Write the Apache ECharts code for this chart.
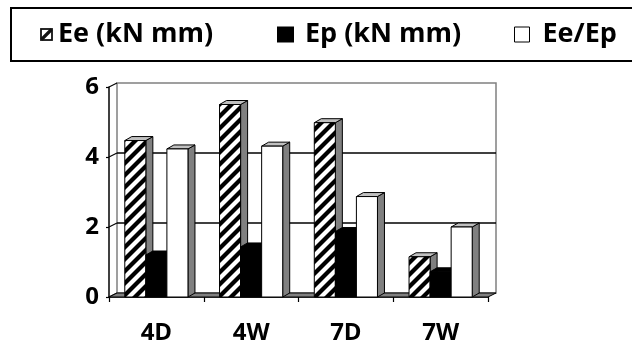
<!DOCTYPE html>
<html>
<head>
<meta charset="utf-8">
<script src="https://cdn.jsdelivr.net/npm/echarts@6/dist/echarts.min.js"></script>
<style>
  html, body { margin: 0; padding: 0; background: #fff; }
  #chart { width: 632px; height: 345px; }
</style>
</head>
<body>
<div id="chart"></div>
<script>
// Specimen groups and measured energies
const categories = ['4D', '4W', '7D', '7W'];
const eeValues = [4.47, 5.50, 4.98, 1.15];     // Ee (kN mm)
const epValues = [1.20, 1.43, 1.87, 0.72];     // Ep (kN mm)
const ratioValues = [4.23, 4.31, 2.87, 2.00];  // Ee/Ep
const yTicks = [0, 2, 4, 6];
const seriesNames = ['Ee (kN mm)', 'Ep (kN mm)', 'Ee/Ep'];

const FONT = '"Open Sans", "Liberation Sans", sans-serif';
const DEPTH_X = 7, DEPTH_Y = 4;      // bar depth offset
const WALL_X = 8, WALL_Y = 4;        // back wall offset

// diagonal hatch fill for the Ee bars
function makeHatch() {
  const s = 12;
  const c = document.createElement('canvas');
  c.width = s; c.height = s;
  const g = c.getContext('2d');
  g.fillStyle = '#fff';
  g.fillRect(0, 0, s, s);
  g.strokeStyle = '#000';
  g.lineWidth = 4.2;
  for (let k = -1; k <= 1; k++) {
    g.beginPath();
    g.moveTo(k * s - 2, s + 2);
    g.lineTo(k * s + s + 2, -2);
    g.stroke();
  }
  return c;
}
const hatchCanvas = makeHatch();
const hatchFill = { image: hatchCanvas, repeat: 'repeat' };

// legend glyph: framed square with one diagonal
function makeLegendHatch() {
  const s = 13;
  const c = document.createElement('canvas');
  c.width = s; c.height = s;
  const g = c.getContext('2d');
  g.fillStyle = '#fff';
  g.fillRect(0, 0, s, s);
  g.strokeStyle = '#111';
  g.lineWidth = 1.8;
  g.strokeRect(1, 1, s - 2, s - 2);
  g.lineWidth = 3.2;
  g.beginPath();
  g.moveTo(1.5, s - 1.5);
  g.lineTo(s - 1.5, 1.5);
  g.stroke();
  return c.toDataURL();
}

function barRenderer(slot, front, side, topFace) {
  return function (params, api) {
    const cat = api.value(0);
    const val = api.value(1);
    const base = api.coord([cat, 0]);
    const top = api.coord([cat, val]);
    const band = api.size([1, 0])[0];
    const w = band / 4.5;
    const x0 = base[0] - band / 2 + 0.75 * w + slot * w;
    const yb = base[1], yt = top[1];
    const stroke = { stroke: '#000', lineWidth: 1 };
    return {
      type: 'group',
      children: [
        {
          type: 'polygon',
          shape: { points: [[x0 + w, yt], [x0 + w + DEPTH_X, yt - DEPTH_Y], [x0 + w + DEPTH_X, yb - DEPTH_Y], [x0 + w, yb]] },
          style: Object.assign({ fill: side }, stroke)
        },
        {
          type: 'polygon',
          shape: { points: [[x0, yt], [x0 + DEPTH_X, yt - DEPTH_Y], [x0 + w + DEPTH_X, yt - DEPTH_Y], [x0 + w, yt]] },
          style: Object.assign({ fill: topFace }, stroke)
        },
        {
          type: 'rect',
          shape: { x: x0, y: yt, width: w, height: yb - yt },
          style: Object.assign({ fill: front }, stroke)
        }
      ]
    };
  };
}

// walls and floor of the plot box
function frameRenderer(params, api) {
  const cs = params.coordSys;
  const x = cs.x, w = cs.width;
  const yAt = v => api.coord([0, v])[1];
  const y0 = yAt(0), y6 = yAt(6);
  const children = [];
  children.push({
    type: 'rect',
    shape: { x: x + WALL_X, y: y6 - WALL_Y, width: w, height: y0 - y6 },
    style: { fill: '#fff', stroke: '#808080', lineWidth: 1.5 }
  });
  yTicks.forEach((v, i) => {
    const yy = yAt(v);
    if (i > 0 && i < yTicks.length - 1) {
      children.push({
        type: 'line',
        shape: { x1: x + WALL_X, y1: yy - WALL_Y, x2: x + WALL_X + w, y2: yy - WALL_Y },
        style: { stroke: '#000', lineWidth: 1.5 }
      });
    }
    children.push({
      type: 'line',
      shape: { x1: x, y1: yy, x2: x + WALL_X, y2: yy - WALL_Y },
      style: { stroke: '#000', lineWidth: 1.2 }
    });
  });
  children.push({
    type: 'polygon',
    shape: { points: [[x, y0], [x + w, y0], [x + w + WALL_X, y0 - WALL_Y], [x + WALL_X, y0 - WALL_Y]] },
    style: { fill: '#808080', stroke: '#000', lineWidth: 1 }
  });
  return { type: 'group', children: children };
}

const toData = arr => arr.map((v, i) => [i, v]);

const labelStyle = { color: '#000', fontFamily: FONT, fontWeight: 'bold', fontSize: 24 };
const legendText = { color: '#000', fontFamily: FONT, fontWeight: 'bold', fontSize: 27 };

const chart = echarts.init(document.getElementById('chart'), null, { renderer: 'canvas' });
chart.setOption({
  backgroundColor: '#fff',
  animation: false,
  graphic: [{
    type: 'rect',
    shape: { x: 11, y: 8, width: 640, height: 53 },
    style: { fill: 'none', stroke: '#000', lineWidth: 2 },
    z: 0
  }],
  legend: [
    {
      left: 40, top: 21, padding: 0, selectedMode: false,
      itemWidth: 13, itemHeight: 13,
      textStyle: Object.assign({ padding: [0, 0, 0, 0] }, legendText),
      data: [{ name: seriesNames[0], icon: 'image://' + makeLegendHatch() }]
    },
    {
      left: 277, top: 21, padding: 0, selectedMode: false,
      itemWidth: 17, itemHeight: 16,
      textStyle: Object.assign({ padding: [0, 0, 0, 6] }, legendText),
      data: [{ name: seriesNames[1], icon: 'rect', itemStyle: { color: '#000', borderWidth: 0 } }]
    },
    {
      left: 514, top: 21, padding: 0, selectedMode: false,
      itemWidth: 15, itemHeight: 15,
      textStyle: Object.assign({ padding: [0, 0, 0, 8] }, legendText),
      data: [{ name: seriesNames[2], icon: 'rect', itemStyle: { color: '#fff', borderColor: '#000', borderWidth: 1 } }]
    }
  ],
  grid: { left: 109, right: 144, top: 87, bottom: 48 },
  xAxis: {
    type: 'category',
    data: categories,
    boundaryGap: true,
    axisLine: { show: true, lineStyle: { color: '#000', width: 1.5 } },
    axisTick: { show: true, length: 5, lineStyle: { color: '#000', width: 1.2 } },
    axisLabel: Object.assign({ margin: 24 }, labelStyle),
    splitLine: { show: false }
  },
  yAxis: {
    type: 'value',
    min: 0, max: 6, interval: 2,
    axisLine: { show: true, lineStyle: { color: '#000', width: 1.5 } },
    axisTick: { show: true, length: 3, lineStyle: { color: '#000', width: 1.2 } },
    axisLabel: Object.assign({ margin: 10 }, labelStyle),
    splitLine: { show: false }
  },
  series: [
    {
      name: 'frame', type: 'custom', data: [[0, 0]],
      renderItem: frameRenderer, silent: true, z: 1
    },
    {
      name: seriesNames[0], type: 'custom', data: toData(eeValues), z: 2,
      itemStyle: { color: '#fff' },
      renderItem: barRenderer(0, hatchFill, '#808080', '#c0c0c0')
    },
    {
      name: seriesNames[1], type: 'custom', data: toData(epValues), z: 3,
      itemStyle: { color: '#000' },
      renderItem: barRenderer(1, '#000', '#000', '#000')
    },
    {
      name: seriesNames[2], type: 'custom', data: toData(ratioValues), z: 4,
      itemStyle: { color: '#fff' },
      renderItem: barRenderer(2, '#fff', '#808080', '#c0c0c0')
    }
  ]
});
</script>
</body>
</html>
